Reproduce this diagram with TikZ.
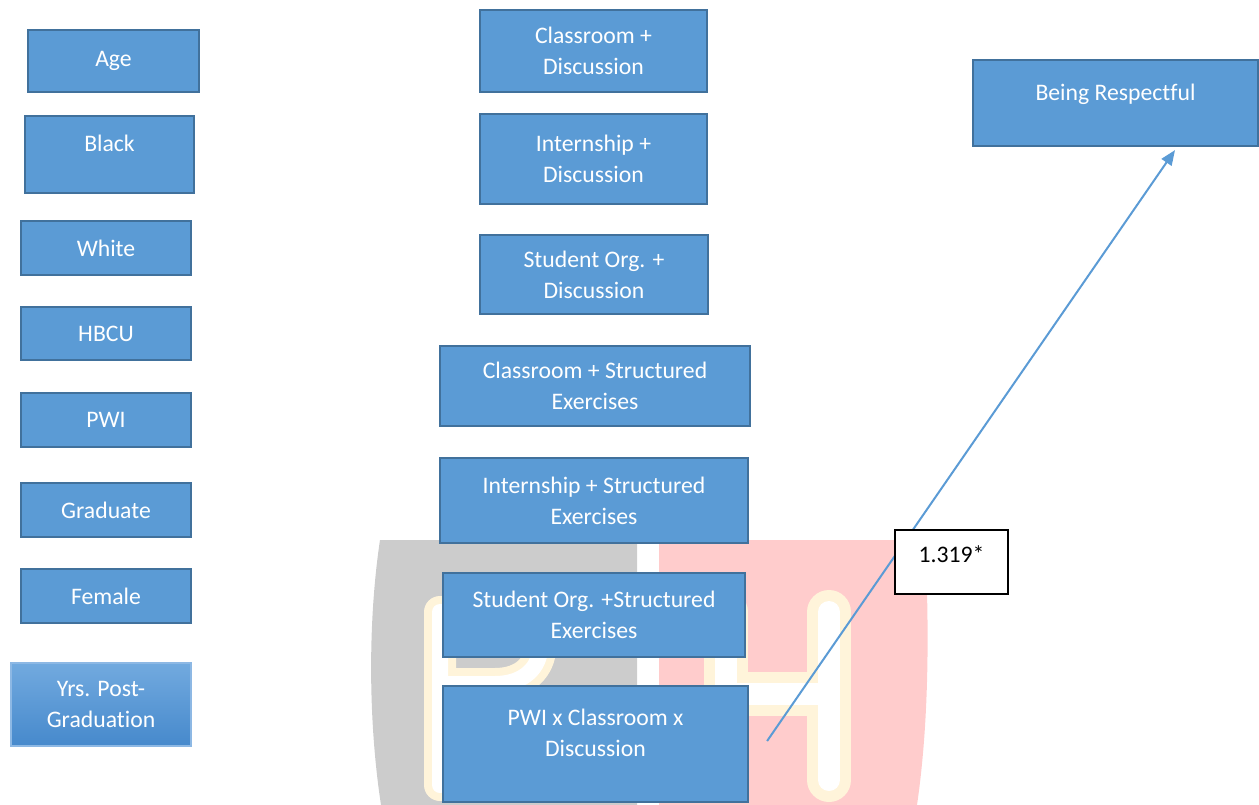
\documentclass[tikz,border=0pt]{standalone}
\usepackage{fontspec}
\setmainfont{Carlito}[Ligatures=NoCommon]
\usetikzlibrary{arrows.meta}
\definecolor{boxfill}{HTML}{5B9BD5}
\definecolor{boxline}{HTML}{41719C}
\definecolor{wmgrey}{HTML}{CCCCCC}
\definecolor{wmpink}{HTML}{FFCCCC}
\definecolor{wmglow}{HTML}{FFF4DA}
\definecolor{gradtop}{HTML}{72AADF}
\definecolor{gradbot}{HTML}{4689CC}
\definecolor{gradline}{HTML}{8DB8E4}
\begin{document}
\begin{tikzpicture}[x=1bp,y=-1bp,
  lbl/.style={font=\fontsize{23.7bp}{31bp}\selectfont},
  box/.style={lbl, draw=boxline, fill=boxfill, line width=2.2bp, text=white, align=center, inner sep=0pt},
  twoline/.style={text depth=-5bp},
  gradbox/.style={lbl, draw=gradline, line width=1.2bp, top color=gradtop, bottom color=gradbot, text=white, align=center, inner sep=0pt},
  coefbox/.style={lbl, draw=black, fill=white, line width=1.3bp, text=black, align=center, inner sep=0pt},
  uptext/.style={text depth=22bp},
  link/.style={draw=boxfill, line width=2bp, -{Triangle[length=15bp,width=12bp]}},
  glow/.style={draw=wmglow, double=white, line cap=round, line join=round}
]
\useasboundingbox (0,0) rectangle (1259,805);
% watermark
\fill[wmgrey] (637,540) -- (380,540) .. controls (368,620) and (368,720) .. (381,805) -- (637,805) -- cycle;
\fill[wmpink] (659,540) -- (925,540) .. controls (930,640) and (928,730) .. (917,805) -- (659,805) -- cycle;
\begin{scope}
\clip (637,540) -- (380,540) .. controls (368,620) and (368,720) .. (381,805) -- (637,805) -- cycle;
\draw[glow, line width=8bp, double distance=16bp] (440,785) -- (440,612) -- (495,612) .. controls (555,612) and (555,684) .. (495,684) -- (440,684) (500,684) -- (545,785);
\end{scope}
\begin{scope}
\clip (659,540) -- (925,540) .. controls (930,640) and (928,730) .. (917,805) -- (659,805) -- cycle;
\draw[glow, line width=11bp, double distance=22bp] (726,612) -- (726,780) (829,612) -- (829,780) (726,694) -- (829,694);
\end{scope}
% left column
\node[box, minimum width=171bp, minimum height=62bp] (age) at (113.5,61) {Age};
\node[box, uptext, minimum width=169bp, minimum height=77bp] (black) at (109.5,154.5) {Black};
\node[box, minimum width=170bp, minimum height=54bp] (white) at (106,248) {White};
\node[box, minimum width=170bp, minimum height=53bp] (hbcu) at (106,333.5) {HBCU};
\node[box, minimum width=170bp, minimum height=54bp] (pwi) at (106,420) {PWI};
\node[box, minimum width=170bp, minimum height=54bp] (grad) at (106,510) {Graduate};
\node[box, minimum width=170bp, minimum height=54bp] (female) at (106,596) {Female};
\node[gradbox, minimum width=180bp, minimum height=83bp] (yrs) at (101,704.5) {Yrs. Post-\\Graduation};
% middle column
\node[box, twoline, minimum width=227bp, minimum height=82bp] (cd) at (593.5,51) {Classroom +\\Discussion};
\node[box, twoline, minimum width=227bp, minimum height=90bp] (id) at (593.5,159) {Internship +\\Discussion};
\node[box, twoline, minimum width=228bp, minimum height=79bp] (sd) at (594,274.5) {Student Org. +\\Discussion};
\node[box, twoline, minimum width=310bp, minimum height=80bp] (cse) at (595,386) {Classroom + Structured\\Exercises};
\node[box, minimum width=308bp, minimum height=85bp] (ise) at (594,500.5) {Internship + Structured\\Exercises};
\node[box, minimum width=302bp, minimum height=84bp] (sse) at (594,615) {Student Org. +Structured\\Exercises};
\node[box, uptext, minimum width=305bp, minimum height=116bp] (pcd) at (595.5,744) {PWI x Classroom x\\Discussion};
% right
\node[box, uptext, minimum width=285bp, minimum height=86bp] (resp) at (1115.5,103) {Being Respectful};
% connector
\coordinate (start) at ([xshift=18bp,yshift=3bp]pcd.east);
\coordinate (tip) at ([xshift=59.5bp,yshift=-3bp]resp.south);
\draw[link] (start) -- (tip);
\node[coefbox, text depth=15bp, minimum width=113bp, minimum height=64bp] (coef) at (951.5,562) {1.319*};
\end{tikzpicture}
\end{document}
